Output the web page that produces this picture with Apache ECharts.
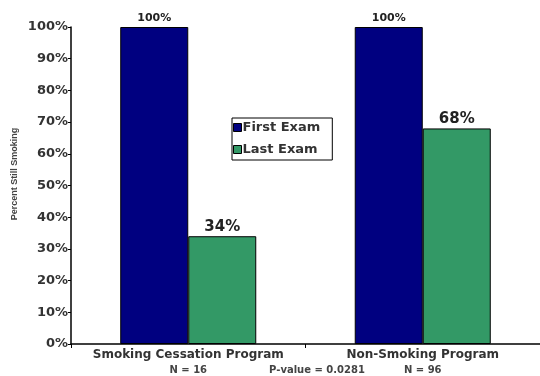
<!DOCTYPE html>
<html>
<head>
<meta charset="utf-8">
<script src="https://cdn.jsdelivr.net/npm/echarts@6/dist/echarts.min.js"></script>
<style>
  html, body { margin: 0; padding: 0; background: #fff; }
  #chart { width: 540px; height: 376px; }
</style>
</head>
<body>
<div id="chart"></div>
<script>
// Share of participants still smoking at the first and last exam
const programs = ['Smoking Cessation Program', 'Non-Smoking Program'];
const sampleSizes = ['N = 16', 'N = 96'];
const firstExam = [100, 100];
const lastExam = [34, 68];
const yTicks = [0, 10, 20, 30, 40, 50, 60, 70, 80, 90, 100];
const pValueText = 'P-value = 0.0281';

const chart = echarts.init(document.getElementById('chart'), null, { renderer: 'canvas' });
const wide = '"DejaVu Sans", Verdana, sans-serif';
const narrow = '"Liberation Sans", Arial, sans-serif';

chart.setOption({
  animation: false,
  backgroundColor: '#ffffff',
  grid: { left: 71, right: 0, top: 27, bottom: 32, containLabel: false },
  legend: {
    orient: 'vertical',
    left: 232,
    top: 118,
    itemWidth: 8,
    itemHeight: 8,
    itemGap: 9,
    padding: [3, 12, 4, 1],
    borderColor: '#000',
    borderWidth: 1,
    textStyle: { fontFamily: wide, fontSize: 13, fontWeight: 'bold', color: '#333', padding: [0, 0, 0, -4] },
    data: [
      { name: 'First Exam', icon: 'rect', itemStyle: { borderColor: '#000', borderWidth: 1 } },
      { name: 'Last Exam', icon: 'rect', itemStyle: { borderColor: '#000', borderWidth: 1 } }
    ]
  },
  xAxis: {
    type: 'category',
    data: programs,
    axisLine: { lineStyle: { color: '#000', width: 1.5 } },
    axisTick: { show: true, length: 4, lineStyle: { color: '#000' } },
    axisLabel: {
      interval: 0,
      margin: 4,
      formatter: (v, i) => '{a|' + v + '}\n{b|' + sampleSizes[i] + '}',
      rich: {
        a: { fontFamily: wide, fontSize: 12, fontWeight: 'bold', color: '#333', lineHeight: 14 },
        b: { fontFamily: wide, fontSize: 10, fontWeight: 'bold', color: '#444', lineHeight: 16 }
      }
    }
  },
  yAxis: {
    type: 'value',
    min: 0,
    max: 100,
    interval: 10,
    axisLine: { show: true, lineStyle: { color: '#000', width: 1.5 } },
    axisTick: { show: true, inside: false, length: 3, lineStyle: { color: '#000' } },
    splitLine: { show: false },
    axisLabel: {
      margin: 3,
      fontFamily: wide,
      fontSize: 13,
      fontWeight: 'bold',
      color: '#333',
      customValues: yTicks,
      formatter: v => v + '%'
    }
  },
  series: [
    {
      name: 'First Exam',
      type: 'bar',
      data: firstExam,
      barGap: '0%',
      barCategoryGap: '42%',
      itemStyle: { color: '#000080', borderColor: '#000', borderWidth: 1 },
      label: {
        show: true, position: 'top', distance: 3,
        fontFamily: wide, fontSize: 11, fontWeight: 'bold', color: '#222',
        formatter: p => p.value + '%'
      }
    },
    {
      name: 'Last Exam',
      type: 'bar',
      data: lastExam,
      itemStyle: { color: '#339966', borderColor: '#000', borderWidth: 1 },
      label: {
        show: true, position: 'top', distance: 2,
        fontFamily: wide, fontSize: 15, fontWeight: 'bold', color: '#222',
        formatter: p => p.value + '%'
      }
    }
  ],
  graphic: [
    {
      type: 'text',
      x: 15, y: 174,
      rotation: Math.PI / 2,
      style: {
        text: 'Percent Still Smoking',
        fontFamily: narrow, fontSize: 9, fontWeight: 'bold', fill: '#444',
        align: 'center', verticalAlign: 'middle'
      }
    },
    {
      type: 'text',
      x: 317, y: 370,
      style: {
        text: pValueText,
        fontFamily: wide, fontSize: 10, fontWeight: 'bold', fill: '#444',
        align: 'center', verticalAlign: 'middle'
      }
    }
  ]
});
</script>
</body>
</html>
